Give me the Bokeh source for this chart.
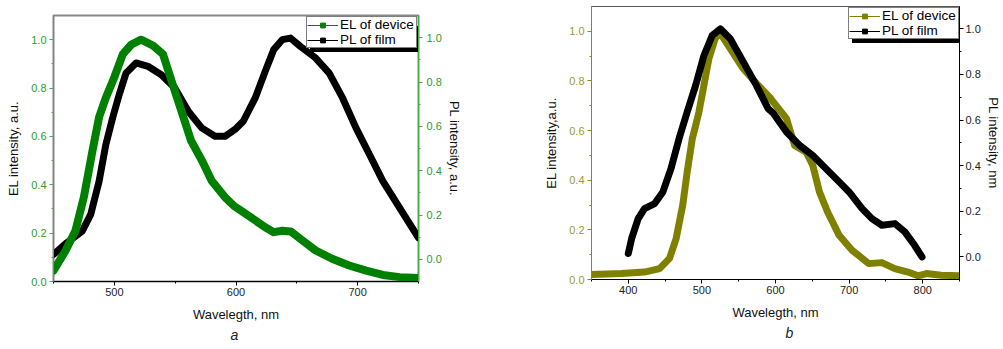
from bokeh.plotting import figure
from bokeh.layouts import row, column
from bokeh.models import (Range1d, LinearAxis, FixedTicker, Legend, LegendItem,
                          Title, NumeralTickFormatter)
from bokeh.embed import file_html
from bokeh.resources import INLINE

FONT = "Liberation Sans"

# ---------------- data: panel a ----------------
a_el_wl = [450, 460, 468, 475, 482, 487.5, 493, 500, 507, 514, 522, 532, 540, 547, 555,
           563, 572, 580, 591, 599, 605, 616, 624, 631, 638, 645, 654.5, 665.5, 679,
           693, 707, 720.7, 734.5, 750]
a_el_val = [0.045, 0.128, 0.21, 0.35, 0.54, 0.68, 0.76, 0.845, 0.94, 0.98, 1.0, 0.975,
            0.94, 0.83, 0.707, 0.583, 0.5, 0.417, 0.348, 0.31, 0.29, 0.252, 0.224,
            0.204, 0.21, 0.207, 0.17, 0.128, 0.094, 0.066, 0.045, 0.027, 0.018, 0.015]
a_pl_wl = [450, 461, 473.6, 480.6, 487.5, 493, 498.6, 504, 509.6, 517.9, 527.6, 538.6,
           549.7, 560.8, 571.8, 582.7, 591, 600, 606, 615.8, 624, 631, 638, 644.8, 653,
           665.5, 676.6, 687.6, 698.6, 709.7, 720.7, 734.5, 750]
a_pl_val = [0.022, 0.075, 0.127, 0.203, 0.353, 0.518, 0.638, 0.743, 0.84, 0.886, 0.871,
            0.833, 0.773, 0.668, 0.593, 0.555, 0.555, 0.59, 0.623, 0.728, 0.848, 0.946,
            0.991, 0.998, 0.96, 0.908, 0.84, 0.728, 0.593, 0.473, 0.353, 0.232, 0.097]

# ---------------- data: panel b ----------------
b_el_wl = [350, 391, 422, 442.5, 456, 465, 474, 480, 487, 496, 502.8, 509.5, 518, 524,
           538.5, 556, 574, 592, 597, 615, 626, 641.7, 650.7, 659.7, 670.8, 686.5, 704,
           726.7, 744.5, 762, 780, 793.7, 805, 825, 850]
b_el_val = [0.02, 0.024, 0.03, 0.044, 0.085, 0.165, 0.3, 0.433, 0.568, 0.675, 0.783,
            0.89, 0.97, 0.997, 0.93, 0.85, 0.79, 0.735, 0.715, 0.648, 0.54, 0.513, 0.46,
            0.353, 0.272, 0.178, 0.118, 0.064, 0.068, 0.044, 0.03, 0.015, 0.024, 0.017,
            0.015]
b_pl_wl = [400, 404.5, 413.4, 422, 435.8, 447, 458, 469, 480, 491.5, 502.8, 514, 525,
           538.5, 556.4, 574, 590, 597, 615, 632.8, 650.7, 668.5, 686.5, 700, 717.7, 731,
           744.5, 762.3, 775.7, 789, 799]
b_pl_val = [0.015, 0.08, 0.168, 0.212, 0.234, 0.285, 0.387, 0.519, 0.635, 0.752, 0.883,
            0.971, 1.0, 0.957, 0.854, 0.752, 0.65, 0.63, 0.548, 0.489, 0.445, 0.387,
            0.329, 0.285, 0.212, 0.168, 0.139, 0.146, 0.11, 0.051, 0.0]

# ---------------- ticks / labels ----------------
y_ticks = [0.0, 0.2, 0.4, 0.6, 0.8, 1.0]
y_minor = [0.1, 0.3, 0.5, 0.7, 0.9]
a_x_ticks = [500, 600, 700]
a_x_minor = [450, 550, 650, 750]
b_x_ticks = [400, 500, 600, 700, 800]
b_x_minor = [350, 450, 550, 650, 750, 850]
legend_labels = ["EL of device", "PL of film"]
x_label = "Wavelegth, nm"


def style_axis(ax, line_color, label_color, tick_standoff, label_standoff):
    ax.axis_line_color = line_color
    ax.major_tick_line_color = line_color
    ax.minor_tick_line_color = line_color
    ax.major_tick_in = 0
    ax.major_tick_out = 4
    ax.minor_tick_in = 0
    ax.minor_tick_out = 2
    ax.major_label_text_color = label_color
    ax.major_label_text_font = FONT
    ax.major_label_text_font_size = "11px"
    ax.major_label_standoff = tick_standoff
    ax.axis_label_text_font = FONT
    ax.axis_label_text_font_size = "13px"
    ax.axis_label_text_font_style = "normal"
    ax.axis_label_text_color = "#111111"
    ax.axis_label_standoff = label_standoff


def add_legend(p, color, el_x, el_y, pl_x, pl_y, pl_range, loc):
    # legend proxies: hidden copies of the series drawn thin with square markers
    r1 = p.line(el_x, el_y, line_color=color, line_width=1, visible=False)
    m1 = p.scatter(el_x, el_y, marker="square", size=6, color=color, visible=False)
    r2 = p.line(pl_x, pl_y, y_range_name=pl_range, line_color="black", line_width=1,
                visible=False)
    m2 = p.scatter(pl_x, pl_y, y_range_name=pl_range, marker="square", size=6,
                   color="black", visible=False)
    common = dict(label_text_font=FONT, label_text_font_size="13.5px",
                  label_text_line_height=1.0, label_width=76,
                  label_standoff=2, glyph_width=31, glyph_height=12, label_height=12,
                  spacing=-2, padding=0, margin=0, border_line_width=1,
                  border_line_color="black", click_policy="none",
                  inactive_fill_alpha=0.0)
    shadow_items = [LegendItem(label=" ", renderers=[r1]),
                    LegendItem(label=" ", renderers=[r2])]
    items = [LegendItem(label=legend_labels[0], renderers=[r1, m1]),
             LegendItem(label=legend_labels[1], renderers=[r2, m2])]
    shadow = Legend(items=shadow_items, location=(loc[0] + 4, loc[1] - 4),
                    background_fill_color="black", background_fill_alpha=1.0,
                    label_text_color="black", **common)
    main = Legend(items=items, location=loc, background_fill_color="white",
                  background_fill_alpha=1.0, label_text_color="black", **common)
    p.add_layout(shadow)
    p.add_layout(main)


def add_caption(p, text, offset):
    t = Title(text=text, align="left", offset=offset, text_font=FONT,
              text_font_style="italic", text_font_size="14px", text_color="#222222",
              standoff=1)
    p.add_layout(t, "below")


# ================= panel a =================
GREEN = "#008000"
pa = figure(width=500, height=349, x_range=Range1d(450, 750), y_range=Range1d(0, 1.1),
            output_backend="svg", toolbar_location=None, title=None,
            min_border_left=53, min_border_right=82, min_border_top=15,
            min_border_bottom=68)
pa.extra_y_ranges = {"pl": Range1d(-0.1, 1.1)}
pa.xgrid.visible = False
pa.ygrid.visible = False
pa.outline_line_color = "#888888"
pa.outline_line_width = 2
pa.background_fill_color = "white"
pa.border_fill_color = "white"

pa.xaxis.ticker = FixedTicker(ticks=a_x_ticks, minor_ticks=a_x_minor)
pa.xaxis.axis_label = x_label
style_axis(pa.xaxis[0], "black", "#222222", 2, 8)
pa.yaxis.ticker = FixedTicker(ticks=y_ticks, minor_ticks=y_minor)
pa.yaxis.formatter = NumeralTickFormatter(format="0.0")
pa.yaxis.axis_label = "EL intensity, a.u."
style_axis(pa.yaxis[0], "#4aa84a", "#2e9a2e", 3, 7)

ra = LinearAxis(y_range_name="pl", axis_label="PL intensity, a.u.",
                ticker=FixedTicker(ticks=y_ticks, minor_ticks=y_minor),
                formatter=NumeralTickFormatter(format="0.0"))
style_axis(ra, "#4aa84a", "#2e9a2e", 4, 2)
pa.add_layout(ra, "right")

pa.line(a_pl_wl, a_pl_val, y_range_name="pl", line_color="black", line_width=7,
        line_join="round", line_cap="round")
pa.line(a_el_wl, a_el_val, line_color=GREEN, line_width=8, line_join="round",
        line_cap="round")
add_legend(pa, GREEN, a_el_wl, a_el_val, a_pl_wl, a_pl_val, "pl", (253, 233))
add_caption(pa, "a", 177)

# ================= panel b =================
OLIVE = "#808000"
pb = figure(width=503, height=349, x_range=Range1d(350, 850), y_range=Range1d(0, 1.1),
            output_backend="svg", toolbar_location=None, title=None,
            min_border_left=91, min_border_right=40, min_border_top=6,
            min_border_bottom=70)
pb.extra_y_ranges = {"pl": Range1d(-0.099, 1.098)}
pb.xgrid.visible = False
pb.ygrid.visible = False
pb.outline_line_color = "#555555"
pb.outline_line_width = 1
pb.background_fill_color = "white"
pb.border_fill_color = "white"

pb.xaxis.ticker = FixedTicker(ticks=b_x_ticks, minor_ticks=b_x_minor)
pb.xaxis.axis_label = x_label
style_axis(pb.xaxis[0], "black", "#222222", 2, 8)
pb.yaxis.ticker = FixedTicker(ticks=y_ticks, minor_ticks=y_minor)
pb.yaxis.formatter = NumeralTickFormatter(format="0.0")
pb.yaxis.axis_label = "EL intensity,a.u."
style_axis(pb.yaxis[0], "#8a8a10", "#9a9a30", 3, 7)

rb = LinearAxis(y_range_name="pl", axis_label="PL intensity, nm",
                ticker=FixedTicker(ticks=y_ticks, minor_ticks=y_minor),
                formatter=NumeralTickFormatter(format="0.0"))
style_axis(rb, "black", "#222222", 2, 2)
pb.add_layout(rb, "right")

pb.line(b_el_wl, b_el_val, line_color=OLIVE, line_width=7, line_join="round",
        line_cap="round")
pb.line(b_pl_wl, b_pl_val, y_range_name="pl", line_color="black", line_width=7,
        line_join="round", line_cap="round")
add_legend(pb, OLIVE, b_el_wl, b_el_val, b_pl_wl, b_pl_val, "pl", (257, 240))
add_caption(pb, "b", 194)

# each panel in its own column so that the row does not align their frames
layout = row(column(pa), column(pb))
open("out.html", "w").write(file_html(layout, INLINE))
